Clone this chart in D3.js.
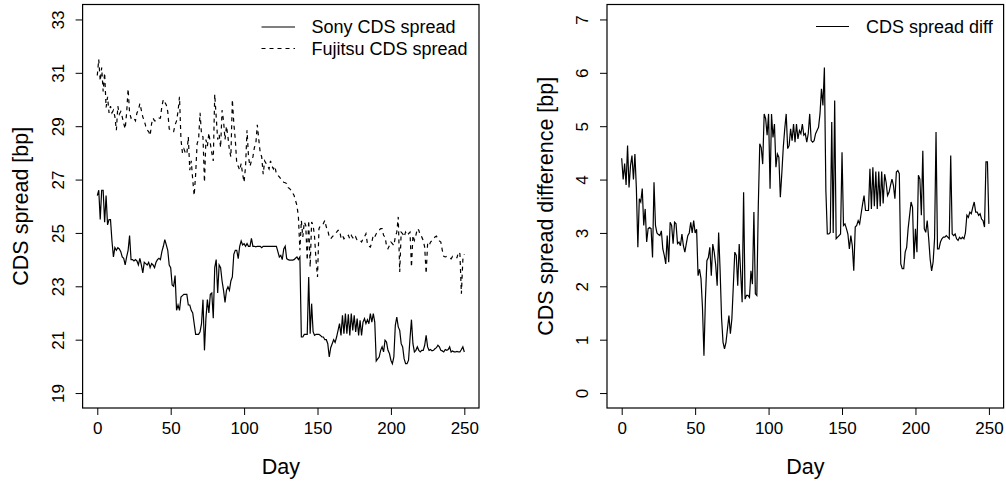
<!DOCTYPE html>
<html><head><meta charset="utf-8">
<script src="https://cdn.jsdelivr.net/npm/d3@7"></script>
<style>
body{margin:0;background:#fff}
svg{display:block}
text{font-family:"Liberation Sans",Arial,sans-serif;fill:#000}
</style>
</head><body>
<svg id="c" width="1006" height="482"></svg>
<script>
// ---- data ----
const sony = [26.4,26.6,25.5,26.6,26.6,25.4,26.4,25.3,25.5,25.5,24.7,24.1,24.45,24.35,24.45,24.4,24.3,24.1,24.05,23.8,
24.1,24.35,24.9,24.0,24.0,23.95,24.0,23.95,23.8,24.05,23.8,23.5,23.9,23.85,23.8,23.9,23.7,23.85,23.8,23.7,
23.9,24.0,24.05,24.0,24.3,24.5,24.75,24.55,24.35,23.8,23.7,23.05,23.0,23.4,22.1,22.3,22.1,22.6,22.65,22.7,
22.7,22.7,22.3,22.3,22.1,22.0,21.6,21.2,21.2,21.2,21.3,21.6,22.5,20.6,21.8,22.5,22.0,22.7,22.75,21.8,
23.7,24.0,22.75,23.8,23.7,23.2,22.85,22.4,22.85,22.98,22.85,23.2,23.35,24.2,24.35,24.35,24.04,24.5,24.7,24.55,
24.6,24.5,24.6,24.5,24.5,24.8,24.5,24.5,24.48,24.5,24.5,24.5,24.45,24.5,24.5,24.5,24.5,24.5,24.5,24.5,
24.5,24.5,24.5,24.3,24.1,24.16,24.0,24.4,24.5,24.04,24.0,23.98,23.98,23.98,24.0,24.05,24.1,24.0,24.1,21.1,
21.1,21.2,21.2,21.2,23.35,21.22,22.35,21.3,21.16,21.2,21.2,21.2,21.16,21.1,21.1,21.0,21.0,20.85,20.35,20.7,
20.85,21.0,20.9,21.1,21.35,21.6,21.16,21.91,21.22,21.98,21.22,21.95,21.16,21.98,21.35,21.91,21.29,21.79,21.16,21.73,
21.16,21.66,21.79,21.6,21.75,21.6,21.98,21.66,21.98,21.66,20.2,20.28,20.35,20.6,20.73,20.54,20.98,20.91,20.6,20.48,
20.23,20.1,20.35,21.54,21.85,21.48,21.35,20.85,20.73,20.29,20.1,20.1,20.23,21.04,21.75,20.85,20.54,20.6,20.73,20.6,
20.54,20.6,20.6,20.79,21.16,20.73,20.6,20.63,20.58,20.6,20.66,20.7,20.79,20.73,20.6,20.58,20.54,20.63,20.6,20.63,
20.73,20.54,20.58,20.54,20.54,20.56,20.54,20.54,20.63,20.73,20.54];

const fujitsu = [30.9,31.5,30.7,31.2,30.3,31.0,29.7,30.1,29.5,29.75,29.5,29.6,29.35,28.85,29.75,29.45,29.55,29.35,29.1,28.9,
29.5,30.4,29.5,29.3,29.35,29.3,29.2,29.5,29.6,29.85,29.6,29.35,29.2,29.0,28.85,28.8,28.65,29.1,29.3,29.2,
29.2,29.25,29.3,29.3,29.75,30.0,29.9,29.8,29.55,28.9,28.85,28.8,28.8,29.05,29.2,29.55,30.1,28.5,28.0,28.15,
28.0,27.95,28.6,27.35,27.7,27.0,26.4,27.2,28.35,28.5,29.5,28.7,28.6,26.9,28.5,28.25,28.75,28.35,28.0,27.7,
30.2,29.35,28.5,28.7,28.2,29.6,29.2,28.5,29.0,28.6,28.1,27.85,30.0,29.1,28.5,27.6,27.5,27.35,27.6,27.2,
26.9,27.5,28.85,27.85,27.5,27.7,27.85,28.2,28.35,29.05,28.5,28.0,27.85,27.2,27.7,27.6,27.5,27.4,27.7,27.5,
27.4,27.5,27.2,27.16,27.1,27.03,26.95,26.9,26.88,26.85,26.7,26.66,26.6,26.5,26.41,26.22,26.03,25.6,24.35,25.47,
24.85,25.41,25.28,23.97,25.47,23.72,25.41,25.3,24.85,23.97,23.35,25.16,25.28,25.3,25.35,25.47,25.22,25.1,24.85,24.78,
24.85,24.91,24.97,25.03,25.1,25.1,24.82,24.91,24.78,24.85,24.85,24.91,24.78,24.91,24.82,24.75,24.85,24.72,24.72,24.72,
24.66,24.78,24.85,24.97,24.6,24.5,24.47,24.66,24.91,24.85,24.97,25.03,25.1,25.16,25.16,24.91,24.85,24.53,24.41,24.53,
24.66,24.6,24.53,24.85,25.03,25.6,23.54,25.03,24.97,24.85,25.03,24.91,24.97,25.03,23.72,24.91,24.72,24.91,25.16,25.1,
24.91,24.85,24.72,24.47,23.47,24.6,24.53,24.66,24.72,24.78,24.85,24.88,24.78,24.7,24.66,24.35,24.12,24.1,24.12,24.1,
24.07,24.03,24.12,24.07,24.07,24.07,24.28,24.22,22.72,24.0,24.2];

const spreadDiff = [4.4,4.0,4.3,3.9,4.64,3.85,4.26,4.45,4.0,4.48,3.83,2.73,3.64,3.58,3.83,3.14,3.45,2.83,3.08,3.1,
3.08,2.54,3.95,3.14,3.0,2.97,2.95,3.04,2.7,2.58,2.42,2.95,2.45,3.2,3.14,2.8,3.2,3.17,2.8,2.83,
2.76,2.98,2.76,2.64,2.8,2.95,3.0,3.2,3.0,3.23,3.0,3.07,2.2,2.32,2.14,1.6,0.7,1.76,2.48,2.54,
2.73,2.2,2.79,2.64,2.4,2.01,3.01,2.3,1.4,0.95,0.83,0.95,1.2,1.45,1.11,1.39,2.01,2.64,2.58,2.01,
2.79,2.26,1.7,3.76,1.76,1.83,1.83,1.79,2.29,2.04,3.39,1.86,1.83,3.51,4.67,4.6,4.29,5.23,5.14,4.83,
5.23,3.83,5.23,4.79,5.04,4.23,4.48,4.42,3.67,4.11,4.6,4.95,5.23,4.58,4.64,4.95,4.73,5.04,4.7,5.04,
4.76,4.92,4.86,5.04,4.83,4.86,4.7,4.86,5.23,4.73,4.7,4.73,4.86,4.92,4.98,5.23,5.7,5.39,6.1,3.8,
2.98,2.98,3.01,5.08,3.0,5.48,2.89,2.92,2.95,2.98,4.51,3.14,3.17,3.08,2.98,2.7,2.95,2.76,2.29,3.11,
3.14,3.23,3.17,3.36,3.54,3.7,3.42,3.42,3.42,4.2,3.45,4.23,3.5,4.15,3.45,4.15,3.5,4.15,3.55,4.1,
3.95,3.7,3.76,3.89,4.01,3.89,3.64,4.14,4.17,4.11,2.42,2.33,2.33,2.64,2.73,3.08,3.33,3.58,3.48,2.51,
3.08,2.64,4.08,4.01,3.33,4.54,3.08,3.01,3.23,2.89,2.51,2.29,2.45,2.89,4.89,2.7,2.7,2.83,2.89,2.92,
2.92,2.95,2.92,2.89,4.45,2.98,2.95,2.98,2.89,2.86,2.92,2.89,2.92,2.89,3.0,3.33,3.29,3.39,3.36,3.48,
3.58,3.39,3.39,3.33,3.36,3.26,3.23,3.11,4.33,4.33,3.17];

const xTicks = [0,50,100,150,200,250];
const leftYTicks = [19,21,23,25,27,29,31,33];
const rightYTicks = [0,1,2,3,4,5,6,7];
const leftLabels = ["Sony CDS spread","Fujitsu CDS spread"];
const rightLabels = ["CDS spread diff"];

// ---- drawing ----
const svg = d3.select("#c");
svg.append("rect").attr("width",1006).attr("height",482).attr("fill","#fff");

const TOP = 4.5, BOT = 408;
const panels = [
  {x0:82.6, x1:479, ydom:[18.44,33.56], yTicks:leftYTicks, ylab:"CDS spread [bp]"},
  {x0:607, x1:1003.6, ydom:[-0.28,7.28], yTicks:rightYTicks, ylab:"CDS spread difference [bp]"}
];
panels.forEach(p=>{
  p.x = d3.scaleLinear().domain([-10,260]).range([p.x0,p.x1]);
  p.y = d3.scaleLinear().domain(p.ydom).range([BOT,TOP]);
});

function drawAxes(p){
  const gx = svg.append("g").attr("transform",`translate(0,${BOT})`)
    .call(d3.axisBottom(p.x).tickValues(xTicks).tickSize(7).tickPadding(6).tickSizeOuter(0));
  gx.select(".domain").remove();
  gx.selectAll("line").attr("stroke","#000").attr("stroke-width",1);
  gx.selectAll("text").attr("font-size",17).attr("dy","0.71em").attr("y",13.5)
    .style("font-family","'Liberation Sans',Arial,sans-serif");

  const gy = svg.append("g").attr("transform",`translate(${p.x0},0)`)
    .call(d3.axisLeft(p.y).tickValues(p.yTicks).tickSize(7).tickSizeOuter(0).tickFormat(d3.format("d")));
  gy.select(".domain").remove();
  gy.selectAll("line").attr("stroke","#000").attr("stroke-width",1);
  gy.selectAll("text").attr("font-size",17).attr("x",0).attr("dy","0.35em")
    .attr("text-anchor","middle").attr("transform","translate(-25,0) rotate(-90)")
    .style("font-family","'Liberation Sans',Arial,sans-serif");

  svg.append("rect").attr("x",p.x0).attr("y",TOP).attr("width",p.x1-p.x0).attr("height",BOT-TOP)
    .attr("fill","none").attr("stroke","#000").attr("stroke-width",1.2);

  svg.append("text").attr("x",(p.x0+p.x1)/2).attr("y",474).attr("text-anchor","middle")
    .attr("font-size",21.5).text("Day");
  svg.append("text").attr("transform",`translate(${p.x0-62},${(TOP+BOT)/2}) rotate(-90)`)
    .attr("dy","0.35em").attr("text-anchor","middle").attr("font-size",21.5).text(p.ylab);
}
panels.forEach(drawAxes);

const L = panels[0], R = panels[1];
const lineL = d3.line().x((d,i)=>L.x(i)).y(d=>L.y(d));
const lineR = d3.line().x((d,i)=>R.x(i)).y(d=>R.y(d));

svg.append("path").attr("d",lineL(fujitsu)).attr("fill","none").attr("stroke","#000")
  .attr("stroke-width",1.2).attr("stroke-dasharray","4,4");
svg.append("path").attr("d",lineL(sony)).attr("fill","none").attr("stroke","#000")
  .attr("stroke-width",1.2);
svg.append("path").attr("d",lineR(spreadDiff)).attr("fill","none").attr("stroke","#000")
  .attr("stroke-width",1.2);

// legends
const legL = [{lab:leftLabels[0],dash:null,y:27},{lab:leftLabels[1],dash:"4,4",y:48.5}];
legL.forEach(e=>{
  svg.append("line").attr("x1",261.5).attr("x2",295).attr("y1",e.y).attr("y2",e.y)
    .attr("stroke","#000").attr("stroke-width",1.2).attr("stroke-dasharray",e.dash);
  svg.append("text").attr("x",311.5).attr("y",e.y).attr("dy","0.35em").attr("font-size",18).text(e.lab);
});
svg.append("line").attr("x1",816).attr("x2",849).attr("y1",26.5).attr("y2",26.5)
  .attr("stroke","#000").attr("stroke-width",1.2);
svg.append("text").attr("x",866).attr("y",26.5).attr("dy","0.35em").attr("font-size",18).text(rightLabels[0]);
</script>
</body></html>
